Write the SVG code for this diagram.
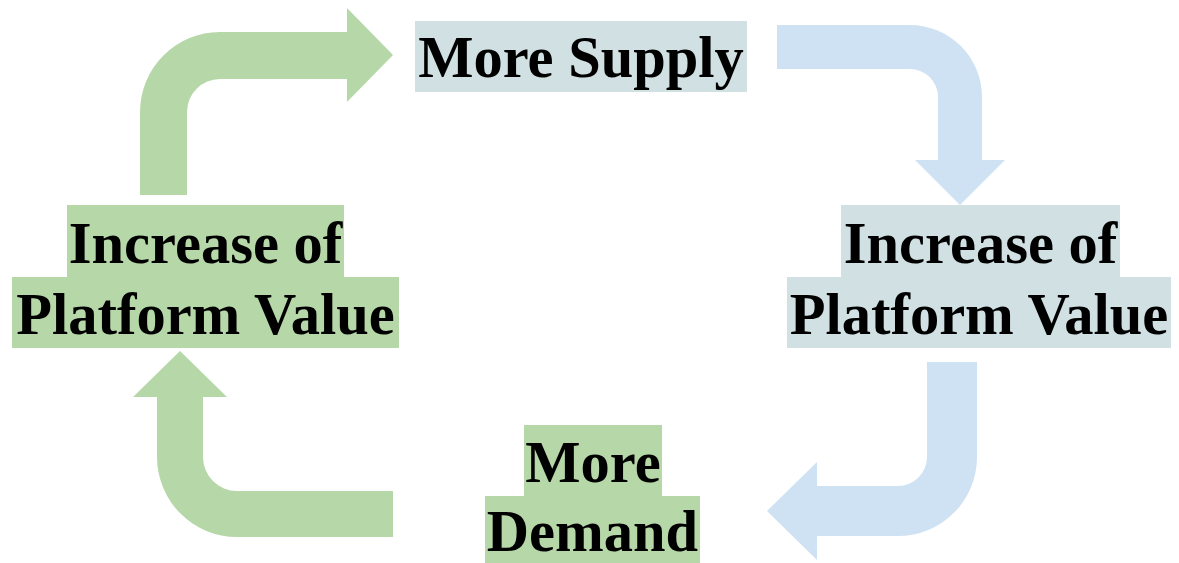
<svg xmlns="http://www.w3.org/2000/svg" width="1179" height="563" viewBox="0 0 1179 563">
<style>
.t{font-family:"Liberation Serif","Times New Roman",serif;font-weight:bold;font-size:58.5px;fill:#000;text-anchor:middle}
.hg{fill:#b6d7a8}
.hb{fill:#d0e0e3}
.ag{fill:#b6d7a8}
.ab{fill:#cfe2f3}
</style>
<rect width="1179" height="563" fill="#fff"/>
<g id="connectors">
<path class="ag" d="M140,195 L140,112 A80,80 0 0 1 220,32 L347,32 L347,8 L393,55 L347,102 L347,79 L220,79 A33,33 0 0 0 187,112 L187,195 Z"/>
<path class="ab" d="M777,25 L910,25 A72,72 0 0 1 982,97 L982,160 L1005,160 L960,205 L915,160 L938,160 L938,97 A28,28 0 0 0 910,69 L777,69 Z"/>
<path class="ab" d="M927,362 L977,362 L977,457 A79,79 0 0 1 898,536 L817,536 L817,560 L767,511 L817,462 L817,486 L898,486 A29,29 0 0 0 927,457 Z"/>
<path class="ag" d="M393,491 L237,491 A34,34 0 0 1 203,457 L203,397 L227,397 L180,351 L133,397 L157,397 L157,457 A80,80 0 0 0 237,537 L393,537 Z"/>
</g>
<g id="more-supply">
<rect class="hb" x="415" y="21" width="332" height="71"/>
<text class="t" x="581" y="77">More Supply</text>
</g>
<g id="platform-value-left">
<rect class="hg" x="67" y="205" width="277" height="72"/>
<rect class="hg" x="12" y="277" width="387" height="71"/>
<text class="t" x="205.5" y="263">Increase of</text>
<text class="t" x="205.5" y="334">Platform Value</text>
</g>
<g id="platform-value-right">
<rect class="hb" x="841" y="205" width="279" height="72"/>
<rect class="hb" x="787" y="277" width="384" height="71"/>
<text class="t" x="980.5" y="263">Increase of</text>
<text class="t" x="979" y="334">Platform Value</text>
</g>
<g id="more-demand">
<rect class="hg" x="524" y="425" width="138" height="71"/>
<rect class="hg" x="485" y="496" width="215" height="67"/>
<text class="t" x="593" y="482">More</text>
<text class="t" x="592.5" y="551">Demand</text>
</g>
</svg>
